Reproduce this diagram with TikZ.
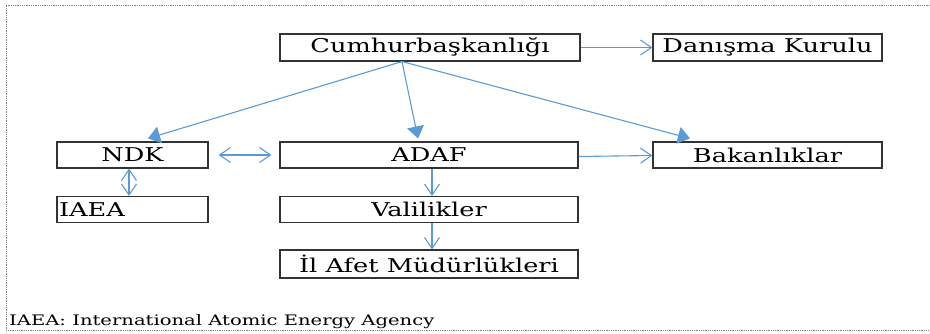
\documentclass[tikz,border=0pt]{standalone}
\usepackage{fontspec}
\setmainfont{DejaVu Serif}[FakeStretch=1.35]
\usetikzlibrary{arrows.meta,calc}
\definecolor{arrowblue}{HTML}{5B9BD5}
\begin{document}
\begin{tikzpicture}[x=1pt,y=-1pt,
  box/.style={draw=black!80,line width=1.1pt,rectangle,inner sep=2pt,font=\fontsize{19}{21}\selectfont},
  conn/.style={draw=arrowblue,line width=1.1pt},
  openhead/.style={conn,-{Straight Barb[length=11pt,width=15pt,line width=1.1pt]}},
  bothopen/.style={conn,{Straight Barb[length=11pt,width=15pt,line width=1.1pt]}-{Straight Barb[length=11pt,width=15pt,line width=1.1pt]}},
  filledhead/.style={conn,-{Triangle[length=12pt,width=17pt]}}]
\useasboundingbox (0,0) rectangle (930,334);
\draw[gray,densely dotted,line width=0.8pt] (930,5) -- (6,5) -- (6,330) -- (930,330);

\node[box,minimum width=300pt,minimum height=27pt] (cb) at (430,47.5) {Cumhurbaşkanlığı};
\node[box,minimum width=229pt,minimum height=27pt] (dk) at (767.5,47.5) {Danışma Kurulu};
\node[box,minimum width=151pt,minimum height=26pt] (ndk) at (132.5,155) {NDK};
\node[box,minimum width=298pt,minimum height=26pt] (adaf) at (429,155) {ADAF};
\node[box,minimum width=229pt,minimum height=26pt] (bak) at (767.5,155) {Bakanlıklar};
\node[box,minimum width=151pt,minimum height=26pt,text width=147pt,align=left] (iaea) at (132.5,209.5) {IAEA};
\node[box,minimum width=298pt,minimum height=26pt] (vali) at (429,209.5) {Valilikler};
\node[box,minimum width=298pt,minimum height=28pt] (il) at (429,264) {İl Afet Müdürlükleri};

\node[anchor=base west,inner sep=0pt,font=\fontsize{14.5}{16}\selectfont] (cap) at (9,325) {IAEA: International Atomic Energy Agency};

\coordinate (src) at ($(cb.south)+(-28,0)$);
\coordinate (tndk) at ($(ndk.north)+(15.5,-3)$);
\coordinate (tadaf) at ($(adaf.north)+(-11,-3)$);
\coordinate (tbak) at ($(bak.north)+(-77.5,-3)$);

\draw[openhead] (cb.east) -- (dk.west);
\draw[filledhead] (src) -- (tndk);
\draw[filledhead] (src) -- (tadaf);
\draw[filledhead] (src) -- (tbak);
\draw[bothopen,shorten <=10pt,shorten >=8pt] (ndk.east) -- (adaf.west);
\draw[bothopen] ($(ndk.south)+(-3.5,0)$) -- ($(iaea.north)+(-3.5,0)$);
\draw[openhead] ($(adaf.east)+(0,1.5)$) -- ($(bak.west)+(0,0.5)$);
\draw[openhead] ($(adaf.south)+(3,0)$) -- ($(vali.north)+(3,0)$);
\draw[openhead] ($(vali.south)+(3,0)$) -- ($(il.north)+(3,0)$);
\end{tikzpicture}
\end{document}
